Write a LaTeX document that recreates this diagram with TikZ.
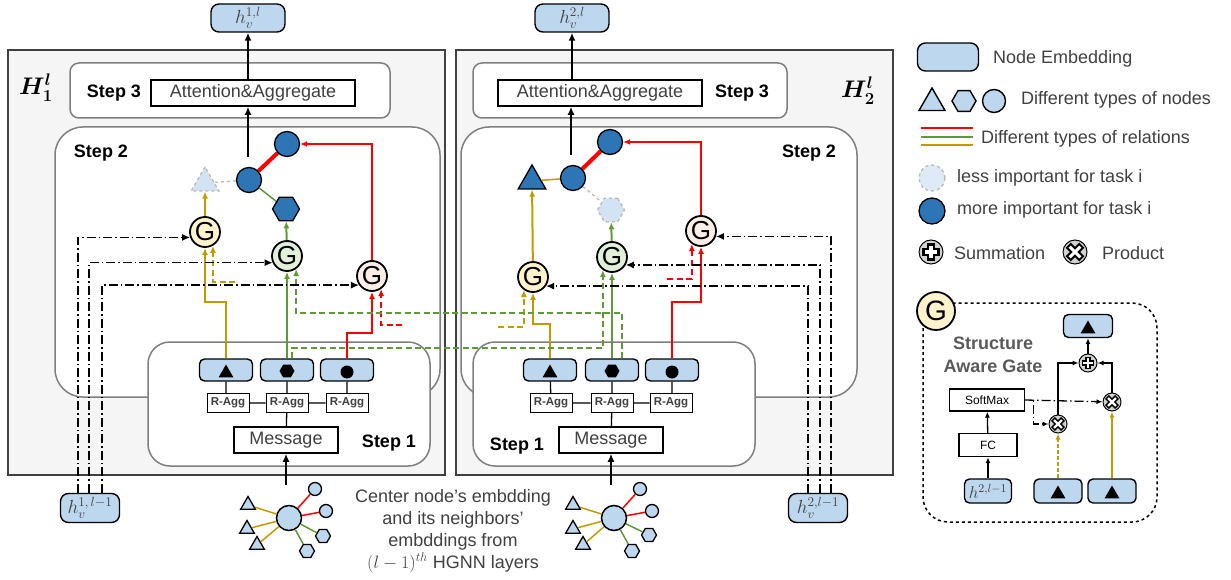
\RequirePackage{fix-cm}
\documentclass[tikz,border=0pt]{standalone}
\usepackage[no-math]{fontspec}
\setmainfont{Liberation Sans}
\usepackage{amsmath}
\usepackage{xcolor}
\usetikzlibrary{arrows.meta, shapes.geometric, positioning}

\definecolor{embblue}{HTML}{BDD7EE}
\definecolor{darkblue}{HTML}{2E75B6}
\definecolor{fadeblue}{HTML}{D2E3F3}
\definecolor{paleblue}{HTML}{DEEBF7}
\definecolor{relred}{HTML}{FF0000}
\definecolor{relgreen}{HTML}{5E9A37}
\definecolor{relyellow}{HTML}{C49A00}
\definecolor{gateyellow}{HTML}{FFF2CC}
\definecolor{gategreen}{HTML}{E2F0D9}
\definecolor{gatepink}{HTML}{FCEEE6}
\definecolor{txtgray}{HTML}{404040}
\definecolor{boxgray}{HTML}{7F7F7F}

\begin{document}
\begin{tikzpicture}[x=1pt, y=-1pt, font=\fontsize{18}{22}\selectfont, >={Latex[length=8pt, width=7pt]},
    layerbox/.style={draw=black!75, line width=1.8pt, fill=black!4},
    stepbox/.style={draw=boxgray, line width=1.5pt, fill=white},
    steplabel/.style={font=\fontsize{18}{22}\selectfont\bfseries},
    legtext/.style={text=txtgray, anchor=west, inner sep=0},
    embd/.style={draw=black, line width=1.4pt, fill=embblue, rounded corners=5pt, minimum width=53, minimum height=22, inner sep=0, text=txtgray},
    mathemb/.style={embd, minimum width=#1, minimum height=28, rounded corners=8pt, font=\fontsize{19}{20}\selectfont},
    ragg/.style={draw=black, line width=1pt, fill=white, text=txtgray, font=\fontsize{11.5}{13}\selectfont\bfseries, minimum width=42, minimum height=19, inner sep=0},
    bigbox/.style={draw=black, line width=1.6pt, fill=white, text=txtgray, minimum height=26, inner sep=0},
    gate/.style={circle, draw=black, line width=1.8pt, minimum size=30, inner sep=0, font=\fontsize{26}{26}\selectfont},
    impfill/.style={draw=black, line width=1.3pt, fill=darkblue},
    fadednode/.style={draw=gray!55, line width=1.3pt, dashed, fill=fadeblue},
    roundn/.style={circle, minimum size=#1, inner sep=0},
    tri/.style={regular polygon, regular polygon sides=3, minimum size=#1, inner sep=0},
    hexa/.style={regular polygon, regular polygon sides=6, minimum size=#1, inner sep=0},
    rel/.style={line width=2pt, ->, >={Latex[length=7pt, width=6pt]}},
    reldash/.style={rel, dash pattern=on 6pt off 3.5pt},
    ddline/.style={line width=1.3pt, dash pattern=on 9pt off 3pt on 1.5pt off 3pt, ->, >={Latex[length=8pt, width=7pt]}},
    thinarr/.style={line width=1.3pt, ->, >={Latex[length=6pt, width=5pt]}},
    sumop/.style={circle, draw=black, line width=1pt, fill=gray!35, minimum size=#1, inner sep=0,
      path picture={
        \draw[line width=0.3*#1] (path picture bounding box.center) +(-0.36*#1,0) -- +(0.36*#1,0) +(0,-0.36*#1) -- +(0,0.36*#1);
        \draw[white, line width=0.13*#1] (path picture bounding box.center) +(-0.27*#1,0) -- +(0.27*#1,0) +(0,-0.27*#1) -- +(0,0.27*#1);}},
    prodop/.style={circle, draw=black, line width=1pt, fill=gray!35, minimum size=#1, inner sep=0,
      path picture={
        \draw[line width=0.3*#1] (path picture bounding box.center) +(45:0.4*#1) -- +(225:0.4*#1) +(135:0.4*#1) -- +(-45:0.4*#1);
        \draw[white, line width=0.13*#1] (path picture bounding box.center) +(45:0.31*#1) -- +(225:0.31*#1) +(135:0.31*#1) -- +(-45:0.31*#1);}},
  ]
\useasboundingbox (0,0) rectangle (1231,580);

% layers and steps
\draw[layerbox] (8,50) rectangle (445,475);
\draw[layerbox] (456,50) rectangle (893,475);
\draw[stepbox, rounded corners=9] (70,63) rectangle (390,118);
\draw[stepbox, rounded corners=28] (55,127) rectangle (440,397);
\draw[stepbox, rounded corners=22] (148,342) rectangle (430,466);
\draw[stepbox, rounded corners=9] (473,63) rectangle (787,118);
\draw[stepbox, rounded corners=28] (461,127) rectangle (857,397);
\draw[stepbox, rounded corners=22] (473,342) rectangle (755,466);

\node (Hone) at (36,88) {\fontsize{24}{24}\selectfont$\boldsymbol{H_1^l}$};
\node (Htwo) at (858,91) {\fontsize{24}{24}\selectfont$\boldsymbol{H_2^l}$};
\node[steplabel] (s3a) at (114,93) {Step 3};
\node[steplabel] (s2a) at (101,153) {Step 2};
\node[steplabel] (s1a) at (389,443) {Step 1};
\node[steplabel] (s3b) at (742,93) {Step 3};
\node[steplabel] (s2b) at (809,153) {Step 2};
\node[steplabel] (s1b) at (517,446) {Step 1};

% task 1
\node[bigbox, minimum width=204] (attn1) at (253,93) {Attention\&Aggregate};
\node[mathemb=74] (out1) at (248,18) {$h_v^{1,l}$};
\draw[->, line width=1.8pt] (attn1.north -| out1) -- (out1);

\node[roundn=25, impfill] (c1) at (249,180) {};
\node[roundn=25, impfill] (t1) at (287,144) {};
\node[tri=32, fadednode] (f1) at (205,183) {};
\node[hexa=27, impfill] (hx1) at (286,209) {};
\draw[relred, line width=4pt] (c1) -- (t1);
\draw[gray!55, dashed, line width=1.3pt] (c1) -- (f1);
\draw[relgreen, line width=1.5pt] (c1) -- (hx1);
\coordinate (c1top) at (248,157);
\draw[->, line width=1.8pt] (c1top) -- (c1top |- attn1.south);

\node[gate, fill=gateyellow] (gy1) at (205,232) {G};
\node[gate, fill=gategreen] (gg1) at (287,256) {G};
\node[gate, fill=gatepink] (gr1) at (372,276) {G};
\draw[rel, relyellow] (gy1) -- (f1);
\draw[rel, relgreen] (gg1) -- (hx1);
\draw[rel, relred] (gr1.north) |- (t1.east);

\node[embd] (e1a) at (226,370) {};
\node[embd] (e1b) at (287,370) {};
\node[embd] (e1c) at (347,370) {};
\node[tri=17, fill=black] (e1as) at (226,373) {};
\node[hexa=15, fill=black] (e1bs) at (287,371) {};
\node[roundn=13, fill=black] (e1cs) at (347,372) {};
\node[ragg] (ra1a) at (228,403) {R-Agg};
\node[ragg] (ra1b) at (287,403) {R-Agg};
\node[ragg] (ra1c) at (347,403) {R-Agg};
\node[bigbox, minimum width=104] (msg1) at (286,440) {Message};
\draw[line width=1.3pt] (e1a.south) -- (e1a.south |- ra1a.north)
  (e1b) -- (ra1b) (e1c) -- (ra1c) (ra1a) -- (ra1b) -- (ra1c) (ra1b) -- (msg1);

\draw[rel, relyellow] (e1a.north) -- ++(0,-56) -| (gy1.south);
\draw[rel, relgreen] (e1b.north) -- (gg1.south);
\draw[rel, relred] (e1c.north) -- ++(0,-25) -| (gr1.south);
\coordinate (ys1) at (235,282);
\coordinate (rs1) at (402,325);
\draw[reldash, relyellow] (ys1) -| (gy1.-60);
\draw[reldash, relred] (rs1) -| (gr1.-55);

% task 2
\node[bigbox, minimum width=204] (attn2) at (600,93) {Attention\&Aggregate};
\node[mathemb=74] (out2) at (572,18) {$h_v^{2,l}$};
\draw[->, line width=1.8pt] (attn2.north -| out2) -- (out2);

\node[roundn=25, impfill] (c2) at (573,178) {};
\node[roundn=25, impfill] (t2) at (610,142) {};
\node[tri=32, impfill] (tr2) at (532,181) {};
\node[hexa=27, fadednode] (f2) at (611,210) {};
\draw[relred, line width=4pt] (c2) -- (t2);
\draw[gray!55, dashed, line width=1.3pt] (c2) -- (f2);
\draw[relyellow, line width=1.5pt] (c2) -- (tr2);
\coordinate (c2top) at (571,155);
\draw[->, line width=1.8pt] (c2top) -- (c2top |- attn2.south);

\node[gate, fill=gateyellow] (gy2) at (533,277) {G};
\node[gate, fill=gategreen] (gg2) at (612,257) {G};
\node[gate, fill=gatepink] (gr2) at (701,231) {G};
\draw[rel, relyellow] (gy2) -- (tr2);
\draw[rel, relgreen] (gg2) -- (f2);
\draw[rel, relred] (gr2.north) |- (t2.east);

\node[embd] (e2a) at (550,370) {};
\node[embd] (e2b) at (612,370) {};
\node[embd] (e2c) at (672,370) {};
\node[tri=17, fill=black] (e2as) at (550,373) {};
\node[hexa=15, fill=black] (e2bs) at (612,371) {};
\node[roundn=13, fill=black] (e2cs) at (672,372) {};
\node[ragg] (ra2a) at (551,403) {R-Agg};
\node[ragg] (ra2b) at (612,403) {R-Agg};
\node[ragg] (ra2c) at (671,403) {R-Agg};
\node[bigbox, minimum width=104] (msg2) at (611,440) {Message};
\draw[line width=1.3pt] (e2a) -- (ra2a) (e2b) -- (ra2b) (e2c.south) -- (e2c.south |- ra2c.north)
  (ra2a) -- (ra2b) -- (ra2c) (ra2b) -- (msg2);

\draw[rel, relyellow] (e2a.north) -- ++(0,-34) -| (gy2.south);
\draw[rel, relgreen] (e2b.north) -- (gg2.south);
\draw[rel, relred] (e2c.north) -- ++(0,-56) -| (gr2.south);
\coordinate (ys2) at (498,327);
\coordinate (rs2) at (667,279);
\draw[reldash, relyellow] (ys2) -| (gy2.-125);
\draw[reldash, relred] (rs2) -| (gr2.-125);

% cross-task green
\draw[reldash, relgreen] ([xshift=10pt]e2b.north) -- ++(0,-45) -| (gg1.-55);
\draw[reldash, relgreen] ([xshift=5pt]e1b.north) -- ++(0,-10) -| (gg2.-125);

% previous layer embeddings
\node[mathemb=59, minimum height=29] (hl1) at (90,508) {$h_v^{1,\,l-1}$};
\node[mathemb=59, minimum height=29] (hl2) at (818,508) {$h_v^{2,l-1}$};
\draw[ddline] ([xshift=-12pt]hl1.north) |- (gy1.200);
\draw[ddline] ([xshift=-1pt]hl1.north) |- (gg1.205);
\draw[ddline] ([xshift=12pt]hl1.north) |- (gr1.215);
\draw[ddline] ([xshift=-10pt]hl2.north) |- (gy2.-35);
\draw[ddline] ([xshift=2pt]hl2.north) |- (gg2.-30);
\draw[ddline] ([xshift=13pt]hl2.north) |- (gr2.-20);

% input graphs
\node[roundn=25, draw=black, line width=1.5pt, fill=embblue] (nb1) at (289,518) {};
\node[roundn=13, draw=black, line width=1.3pt, fill=embblue] (nc1a) at (315,489) {};
\node[roundn=13, draw=black, line width=1.3pt, fill=embblue] (nc1b) at (326,511) {};
\node[hexa=15, draw=black, line width=1.3pt, fill=embblue] (nh1a) at (323,536) {};
\node[hexa=15, draw=black, line width=1.3pt, fill=embblue] (nh1b) at (307,551) {};
\node[tri=17, draw=black, line width=1.3pt, fill=embblue] (nt1a) at (248,505) {};
\node[tri=17, draw=black, line width=1.3pt, fill=embblue] (nt1b) at (247,529) {};
\node[tri=17, draw=black, line width=1.3pt, fill=embblue] (nt1c) at (257,545) {};
\draw[relred, line width=1.5pt] (nb1) -- (nc1a) (nb1) -- (nc1b);
\draw[relgreen, line width=1.5pt] (nb1) -- (nh1a) (nb1) -- (nh1b);
\draw[relyellow, line width=1.5pt] (nb1) -- (nt1a) (nb1) -- (nt1b) (nb1) -- (nt1c);
\coordinate (in1) at (286,485);
\draw[->, line width=1.5pt] (in1) -- (msg1.south);

\node[roundn=25, draw=black, line width=1.5pt, fill=embblue] (nb2) at (614,518) {};
\node[roundn=13, draw=black, line width=1.3pt, fill=embblue] (nc2a) at (640,489) {};
\node[roundn=13, draw=black, line width=1.3pt, fill=embblue] (nc2b) at (652,511) {};
\node[hexa=15, draw=black, line width=1.3pt, fill=embblue] (nh2a) at (649,535) {};
\node[hexa=15, draw=black, line width=1.3pt, fill=embblue] (nh2b) at (632,551) {};
\node[tri=17, draw=black, line width=1.3pt, fill=embblue] (nt2a) at (573,505) {};
\node[tri=17, draw=black, line width=1.3pt, fill=embblue] (nt2b) at (573,529) {};
\node[tri=17, draw=black, line width=1.3pt, fill=embblue] (nt2c) at (583,545) {};
\draw[relred, line width=1.5pt] (nb2) -- (nc2a) (nb2) -- (nc2b);
\draw[relgreen, line width=1.5pt] (nb2) -- (nh2a) (nb2) -- (nh2b);
\draw[relyellow, line width=1.5pt] (nb2) -- (nt2a) (nb2) -- (nt2b) (nb2) -- (nt2c);
\coordinate (in2) at (611,485);
\draw[->, line width=1.5pt] (in2) -- (msg2.south);

\node[text=txtgray, align=center] (ctext) at (453,531) {Center node’s embdding\\and its neighbors’\\embddings from\\$(l-1)^{th}$ HGNN layers};

% legend
\node[embd, minimum width=61, minimum height=28, rounded corners=8pt] (lgemb) at (948,57) {};
\node[legtext] (lgembt) at (993,59) {Node Embedding};
\node[tri=30, draw=black, line width=1.4pt, fill=embblue] (lgtri) at (932,103) {};
\node[hexa=24, draw=black, line width=1.4pt, fill=embblue] (lghex) at (964,101) {};
\node[roundn=23, draw=black, line width=1.4pt, fill=embblue] (lgcirc) at (994,101) {};
\node[legtext] (lgnodes) at (1021,100) {Different types of nodes};
\draw[relred, line width=2.5pt] (921,128) -- (973,128);
\draw[relgreen, line width=2.5pt] (921,137) -- (973,137);
\draw[relyellow, line width=2.5pt] (921,145) -- (973,145);
\node[legtext] (lgrels) at (981,139) {Different types of relations};
\node[roundn=26, draw=gray!55, dashed, line width=1.3pt, fill=paleblue] (lgless) at (932,178) {};
\node[legtext] (lglesst) at (957,178) {less important for task i};
\node[roundn=26, impfill] (lgmore) at (932,211) {};
\node[legtext] (lgmoret) at (957,210) {more important for task i};
\node[sumop=24] (lgsum) at (931,252) {};
\node[legtext] (lgsumt) at (954,253) {Summation};
\node[prodop=24] (lgprod) at (1075,252) {};
\node[legtext] (lgprodt) at (1102,253) {Product};

% structure aware gate
\draw[line width=1.5pt, dashed, rounded corners=25] (923,303) rectangle (1157,522);
\node[gate, fill=gateyellow, minimum size=38, font=\fontsize{28}{28}\selectfont] (gkey) at (936,311) {G};
\node[text=black!65, align=center, font=\fontsize{18}{23}\selectfont\bfseries] (sag) at (993,355) {Structure\\Aware Gate};
\node[bigbox, minimum width=75, minimum height=22, line width=1.4pt, font=\fontsize{12}{14}\selectfont, text=black] (smax) at (987,400) {SoftMax};
\node[bigbox, minimum width=58, minimum height=23, line width=1.4pt, font=\fontsize{12}{14}\selectfont, text=black] (fc) at (988,445) {FC};
\node[embd, minimum width=47, minimum height=24, font=\fontsize{17}{18}\selectfont] (hin) at (988,491) {$h^{2,l-1}$};
\node[embd, minimum width=49, minimum height=23] (outg) at (1088,326) {};
\node[tri=17, fill=black] (outgs) at (1088,329) {};
\node[embd, minimum width=48, minimum height=24] (inl) at (1058,491) {};
\node[tri=17, fill=black] (inls) at (1058,494) {};
\node[embd, minimum width=48, minimum height=24] (inr) at (1112,491) {};
\node[tri=17, fill=black] (inrs) at (1112,494) {};
\node[sumop=18] (sumg) at (1088,363) {};
\node[prodop=18] (prodl) at (1058,424) {};
\node[prodop=18] (prodr) at (1112,402) {};
\draw[thinarr] (hin) -- (fc);
\draw[thinarr] (fc) -- (smax);
\draw[thinarr] (sumg) -- (outg);
\draw[thinarr] (prodl) |- (sumg);
\draw[thinarr] (prodr) |- (sumg);
\draw[thinarr, relyellow, dash pattern=on 4pt off 2pt] (inl) -- (prodl);
\draw[thinarr, relyellow] (inr) -- (prodr);
\draw[thinarr, dash pattern=on 9pt off 3pt on 1.5pt off 3pt] (smax.east) -- (prodr);
\draw[thinarr, dash pattern=on 1.5pt off 3pt on 9pt off 3pt] ([xshift=8pt]smax.east) |- (prodl);
\end{tikzpicture}
\end{document}
